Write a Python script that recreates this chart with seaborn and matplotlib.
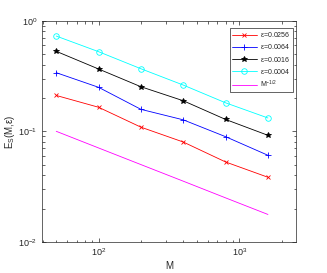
import matplotlib

matplotlib.use("Agg")

import matplotlib.pyplot as plt
import pandas as pd
import seaborn as sns
from matplotlib.ticker import LogLocator, NullFormatter

M = [50, 100, 200, 400, 800, 1600]
eps_labels = ["0.0256", "0.0064", "0.0016", "0.0004"]
err_0256 = [0.211, 0.165, 0.109, 0.080, 0.0528, 0.0384]
err_0064 = [0.339, 0.250, 0.158, 0.127, 0.0894, 0.0607]
err_0016 = [0.529, 0.366, 0.253, 0.189, 0.128, 0.092]
err_0004 = [0.727, 0.525, 0.368, 0.262, 0.181, 0.132]
ref_half = [0.1, 0.0707, 0.05, 0.0354, 0.025, 0.0177]

series = [err_0256, err_0064, err_0016, err_0004]
colors = ["#ff0000", "#0000ff", "#000000", "#00ffff"]
markers = ["x", "+", "*", "o"]
msizes = [3.5, 4.5, 4.0, 4.0]

sns.set_style("ticks")
plt.rcParams["font.family"] = ["Liberation Sans", "DejaVu Sans"]
plt.rcParams["mathtext.fontset"] = "custom"
plt.rcParams["mathtext.rm"] = "Liberation Sans"
plt.rcParams["mathtext.it"] = "Liberation Sans"

fig = plt.figure(figsize=(3.27, 2.73), dpi=100)
ax = fig.add_axes([0.128, 0.114, 0.777, 0.81])

for vals, lab, c, mk, ms in zip(series, eps_labels, colors, markers, msizes):
    df = pd.DataFrame({"M": M, "err": vals})
    sns.lineplot(
        data=df, x="M", y="err", ax=ax, color=c, marker=mk, markersize=ms,
        linewidth=0.6, markerfacecolor="none" if mk == "o" else c,
        markeredgecolor=c, markeredgewidth=0.6, label=rf"$\epsilon$={lab}",
    )
sns.lineplot(x=M, y=ref_half, ax=ax, color="#ff00ff", linewidth=0.6, label=r"M$^{-1/2}$")

ax.set_xscale("log")
ax.set_yscale("log")
ax.set_xlim(39.5, 2530)
ax.set_ylim(0.01, 1)
ax.set_xlabel("M", fontsize=7, labelpad=2)
ax.set_ylabel(r"E$_S$(M,$\epsilon$)", fontsize=7, labelpad=1)

ax.xaxis.set_minor_locator(LogLocator(base=10, subs=range(2, 10)))
ax.yaxis.set_minor_locator(LogLocator(base=10, subs=range(2, 10)))
ax.xaxis.set_minor_formatter(NullFormatter())
ax.yaxis.set_minor_formatter(NullFormatter())
ax.tick_params(which="both", direction="in", top=True, right=True, colors="#262626", labelsize=6.5, width=0.5)
ax.tick_params(which="major", length=3)
ax.tick_params(which="minor", length=1.8)
for sp in ax.spines.values():
    sp.set_linewidth(0.5)
    sp.set_color("#262626")

leg = ax.legend(loc="upper right", fontsize=5, frameon=True, fancybox=False, edgecolor="#262626",
                framealpha=1, borderpad=0.35, handlelength=3.6, handletextpad=0.4,
                labelspacing=0.45, borderaxespad=0, bbox_to_anchor=(0.987, 0.968))
leg.get_frame().set_linewidth(0.5)

fig.savefig("out.png", dpi=100)
